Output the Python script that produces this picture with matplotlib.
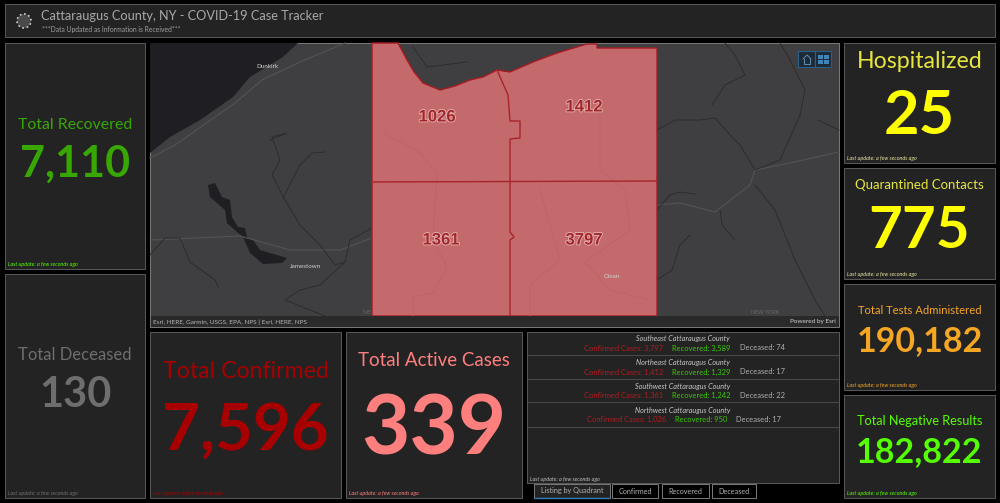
import matplotlib
matplotlib.use('Agg')
import matplotlib.pyplot as plt
import matplotlib.patheffects as pe
from matplotlib.patches import Rectangle, Polygon, Circle

plt.rcParams['font.family'] = ['Lato', 'DejaVu Sans']

# indicator cards
card_titles = ['Total Recovered', 'Total Deceased', 'Total Confirmed', 'Total Active Cases',
               'Hospitalized', 'Quarantined Contacts', 'Total Tests Administered', 'Total Negative Results']
card_values = ['7,110', '130', '7,596', '339', '25', '775', '190,182', '182,822']
card_colors = ['#38a800', '#6e6e6e', '#a80000', '#ff7f7f', '#ffff00', '#ffff00', '#f5a623', '#55ff00']
title_colors = ['#38a800', '#6e6e6e', '#a80000', '#ff7f7f', '#e6e63c', '#e6e63c', '#f5a623', '#55ff00']
card_boxes = [(5, 43, 145, 269), (5, 274, 145, 498), (150, 332, 341, 498), (346, 332, 522, 498),
              (844, 43, 995, 163), (844, 168, 995, 279), (844, 284, 995, 390), (844, 395, 995, 498)]
title_y = [125, 355, 372, 360, 61, 185, 311, 421]
value_y = [164, 395, 431, 431, 116, 231, 341, 452]
title_size = [11.4, 12, 16.7, 13.5, 16.7, 9.5, 8.1, 9.2]
value_size = [31, 30, 47, 60, 44, 42, 24.5, 24.5]
stamp_colors = ['#55ff00', '#6e6e6e', '#a80000', '#ff7f7f', '#e8e8a0', '#e8e8a0', '#f5a623', '#55ff00']

# map labels
quadrant_counts = ['1026', '1412', '1361', '3797']
quadrant_x = [437, 584, 441, 584]
quadrant_y = [117, 107, 240, 240]
town_names = ['Dunkirk', 'Jamestown', 'Olean']
town_x = [267, 305, 612]
town_y = [66, 267, 276]

# quadrant list
list_names = ['Southeast Cattaraugus County', 'Northeast Cattaraugus County',
              'Southwest Cattaraugus County', 'Northwest Cattaraugus County']
list_confirmed = ['3,797', '1,412', '1,361', '1,026']
list_recovered = ['3,589', '1,329', '1,242', '950']
list_deceased = ['74', '17', '22', '17']
tab_names = ['Listing by Quadrant', 'Confirmed', 'Recovered', 'Deceased']
tab_left = [534, 612, 662, 712]
tab_right = [610, 658, 709, 756]

county = [(372, 43), (398, 43), (407, 60), (414, 72), (423, 83), (440, 90), (455, 86), (470, 80), (483, 77),
          (497, 70), (510, 72), (533, 62), (557, 53), (587, 44), (597, 44), (597, 48), (657, 48), (657, 316),
          (372, 316)]
lake_erie = [(150, 43), (298, 43), (283, 57), (250, 77), (233, 97), (200, 120), (170, 137), (150, 153)]
chautauqua = [(208, 185), (215, 183), (222, 197), (230, 200), (232, 217), (238, 227), (245, 228), (247, 237),
              (253, 240), (260, 250), (287, 258), (282, 263), (263, 264), (250, 253), (243, 237), (237, 232),
              (227, 223), (225, 210), (210, 197)]
roads = [[(150, 158), (175, 145), (235, 103), (262, 80), (300, 62), (345, 43)],
         [(150, 240), (240, 236), (290, 250), (340, 250), (372, 238)],
         [(657, 205), (680, 203), (715, 212), (750, 185), (755, 170), (790, 163), (839, 152)]]
rivers = [[(270, 140), (287, 133), (272, 137), (280, 160), (272, 175), (285, 200), (300, 225), (320, 245),
           (335, 265), (345, 262), (350, 240), (372, 228)],
          [(283, 198), (300, 165), (312, 153), (325, 152)],
          [(150, 255), (165, 238), (180, 238), (190, 262), (215, 280), (218, 287)],
          [(325, 316), (285, 300), (300, 290), (320, 285), (345, 262)],
          [(413, 47), (427, 67), (467, 62)],
          [(657, 130), (675, 120), (700, 120), (715, 118), (730, 135), (740, 145), (755, 170), (780, 160), (800, 115),
           (805, 90), (790, 60), (780, 43)],
          [(712, 105), (725, 85), (745, 75), (735, 55), (725, 43)],
          [(755, 185), (775, 210), (785, 235), (795, 260), (805, 280), (815, 300), (825, 316)],
          [(720, 210), (722, 225), (735, 240)],
          [(657, 280), (672, 270), (680, 245), (690, 235)],
          [(657, 210), (670, 195), (680, 192), (695, 194)],
          [(818, 120), (839, 130)]]
county_faint = [[(383, 133), (417, 150), (437, 173), (433, 240), (447, 267), (433, 293), (413, 297), (413, 316)],
                [(540, 190), (560, 260), (530, 285), (530, 316)],
                [(600, 110), (600, 170), (625, 190), (630, 230), (585, 262), (610, 290), (650, 300)]]
county_lines = [[(372, 182), (657, 181)],
                [(510, 316), (510, 240), (514, 237), (510, 232), (510, 139), (520, 138), (520, 121), (510, 121),
                 (508, 95), (497, 70)]]

fig = plt.figure(figsize=(10, 5.03), dpi=100, facecolor='#000000')
ax = fig.add_axes([0, 0, 1, 1])
ax.set_xlim(0, 1000)
ax.set_ylim(503, 0)
ax.axis('off')


def panel(x0, y0, x1, y1):
    ax.add_patch(Rectangle((x0, y0), x1 - x0, y1 - y0, fc='#232323', ec='#5a5a5a', lw=0.7, zorder=1))


def stamp(x, y, color):
    ax.text(x, y, 'Last update: a few seconds ago', color=color, fontsize=3.9, style='italic',
            va='center', zorder=6)


# header
panel(5, 4, 995, 37)
ax.add_patch(Circle((24, 21), 7, fc='#4a4a4a', ec='#cfcfcf', lw=1.2, ls=':', zorder=2))
ax.text(41, 15.5, 'Cattaraugus County, NY - COVID-19 Case Tracker', color='#a8a8a8', fontsize=9.2,
        va='center', zorder=3)
ax.text(42, 29.5, '***Data Updated as Information is Received***', color='#a0a0a0', fontsize=4.9,
        va='center', zorder=3)

# cards
for i in range(len(card_titles)):
    x0, y0, x1, y1 = card_boxes[i]
    panel(x0, y0, x1, y1)
    xc = (x0 + x1) / 2
    ax.text(xc, title_y[i], card_titles[i], color=title_colors[i], fontsize=title_size[i],
            ha='center', va='center', zorder=3)
    ax.text(xc, value_y[i], card_values[i], color=card_colors[i], fontsize=value_size[i],
            ha='center', va='center', fontweight='bold', zorder=3)
    stamp(x0 + 3, y1 - 5, stamp_colors[i])

# map
ax.add_patch(Rectangle((150, 43), 689, 284, fc='#3f3f41', ec='#7a7a7a', lw=0.7, zorder=1))
ax.add_patch(Polygon(lake_erie, fc='#1f1f23', ec='none', zorder=2))
ax.add_patch(Polygon(chautauqua, fc='#1f1f23', ec='none', zorder=2))
for line in roads:
    ax.plot(*zip(*line), color='#515153', lw=0.9, zorder=2)
for line in rivers:
    ax.plot(*zip(*line), color='#2a2a2c', lw=0.6, zorder=2)
ax.add_patch(Polygon(county, fc='#c46a6c', ec='#a51c22', lw=1, zorder=3))
for line in county_faint:
    ax.plot(*zip(*line), color='#bf6568', lw=0.8, zorder=3)
for line in county_lines:
    ax.plot(*zip(*line), color='#a8242a', lw=1, zorder=4)
for t, x, y in zip(quadrant_counts, quadrant_x, quadrant_y):
    ax.text(x, y, t, color='#a3262b', fontsize=12, fontweight='bold', ha='center', va='center', zorder=5,
            family=['Liberation Sans', 'DejaVu Sans'],
            path_effects=[pe.withStroke(linewidth=1.2, foreground='#e6b4b4')])
for t, x, y in zip(town_names, town_x, town_y):
    ax.text(x, y, t, color='#d0d0d0', fontsize=4.5, ha='center', va='center', zorder=5)
ax.add_patch(Rectangle((150.5, 316), 688, 10.5, fc='#2a2a2b', ec='none', zorder=4))
ax.text(153, 322, 'Esri, HERE, Garmin, USGS, EPA, NPS | Esri, HERE, NPS', color='#b5b5b5', fontsize=4.6,
        va='center', zorder=5)
ax.text(836, 322, 'Powered by Esri', color='#d0d0d0', fontsize=4.6, ha='right', va='center', zorder=5)
ax.text(377, 312, 'NEW YORK', color='#6a6a6a', fontsize=3.8, ha='center', va='center', zorder=2)
ax.text(765, 312, 'NEW YORK', color='#6a6a6a', fontsize=3.8, ha='center', va='center', zorder=2)
ax.add_patch(Rectangle((798, 51), 16.5, 16, fc='#1d2b38', ec='#2a6088', lw=0.8, zorder=5))
ax.add_patch(Rectangle((814.5, 51), 16.5, 16, fc='#1d2b38', ec='#2a6088', lw=0.8, zorder=5))
ax.plot([803, 807, 811], [59, 55, 59], color='#5f8fb0', lw=0.7, zorder=6)
ax.plot([804, 804, 810, 810], [59, 64, 64, 59], color='#5f8fb0', lw=0.7, zorder=6)
for bx in (818, 824):
    for by in (55, 60):
        ax.add_patch(Rectangle((bx, by), 4.5, 3.5, fc='#3f86b8', ec='none', zorder=6))

# list panel
panel(527, 332, 839, 483)
row_y = [339, 363, 386, 410]
rule_y = [355, 379, 402, 427]
for i in range(4):
    y = row_y[i]
    ax.text(683, y, list_names[i], color='#c8c8c8', fontsize=5.2, style='italic', ha='center', va='center', zorder=3)
    dx = 3 if i == 3 else 0
    ax.text(584 + dx, y + 9, 'Confirmed Cases: ' + list_confirmed[i], color='#b01c22', fontsize=5.4,
            va='center', zorder=3)
    ax.text(672 + dx, y + 9, 'Recovered: ' + list_recovered[i], color='#3cc800', fontsize=5.4,
            va='center', zorder=3)
    ax.text(740 - 4 * (i == 3), y + 9, 'Deceased: ' + list_deceased[i], color='#b0b0b0', fontsize=5.4,
            va='center', zorder=3)
    ax.plot([528, 838], [rule_y[i], rule_y[i]], color='#4a4a4a', lw=0.7, zorder=3)
stamp(530, 479, '#c0c0c0')

# tabs
for i in range(4):
    ax.add_patch(Rectangle((tab_left[i], 483.5), tab_right[i] - tab_left[i], 14.5,
                           fc='#232323' if i == 0 else '#000000', ec='#7a7a7a', lw=0.7, zorder=2))
    ax.text((tab_left[i] + tab_right[i]) / 2, 491, tab_names[i], color='#b0b0b0', fontsize=5.2,
            ha='center', va='center', zorder=3)
ax.plot([535, 609], [498, 498], color='#2f7fc0', lw=1, zorder=4)

fig.savefig('out.png', dpi=100, facecolor=fig.get_facecolor())
